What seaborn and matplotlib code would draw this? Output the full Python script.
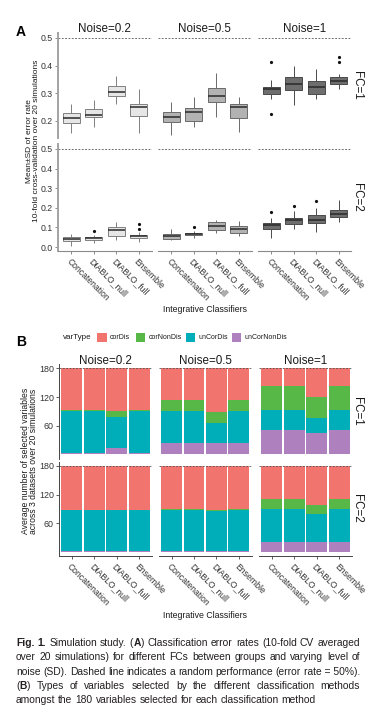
import numpy as np
import pandas as pd
import matplotlib
matplotlib.use("Agg")
import matplotlib.pyplot as plt
from matplotlib.patches import Rectangle
import seaborn as sns

# ---------------- data ----------------
noise_levels = ["Noise=0.2", "Noise=0.5", "Noise=1"]
fc_levels = ["FC=1", "FC=2"]
methods = ["Concatenation", "DIABLO_null", "DIABLO_full", "Ensemble"]

# Panel A: error-rate box summaries, order = noise 0.2 / 0.5 / 1, 4 methods each
fc1_whislo = [0.155, 0.179, 0.260, 0.155, 0.148, 0.179, 0.215, 0.161, 0.278, 0.256, 0.280, 0.316]
fc1_q1     = [0.192, 0.214, 0.290, 0.218, 0.197, 0.201, 0.268, 0.212, 0.298, 0.311, 0.298, 0.335]
fc1_median = [0.212, 0.221, 0.304, 0.251, 0.215, 0.233, 0.290, 0.251, 0.316, 0.332, 0.323, 0.346]
fc1_q3     = [0.230, 0.242, 0.325, 0.262, 0.232, 0.246, 0.320, 0.262, 0.323, 0.358, 0.344, 0.359]
fc1_whishi = [0.260, 0.275, 0.364, 0.316, 0.269, 0.285, 0.374, 0.287, 0.347, 0.400, 0.388, 0.371]

fc2_whislo = [0.007, 0.019, 0.034, 0.027, 0.034, 0.046, 0.070, 0.058, 0.048, 0.092, 0.077, 0.127]
fc2_q1     = [0.031, 0.034, 0.058, 0.047, 0.041, 0.059, 0.086, 0.074, 0.092, 0.115, 0.125, 0.152]
fc2_median = [0.043, 0.045, 0.087, 0.055, 0.058, 0.067, 0.108, 0.091, 0.111, 0.137, 0.140, 0.171]
fc2_q3     = [0.051, 0.051, 0.101, 0.064, 0.065, 0.074, 0.128, 0.106, 0.124, 0.150, 0.163, 0.188]
fc2_whishi = [0.067, 0.060, 0.130, 0.075, 0.092, 0.084, 0.140, 0.134, 0.146, 0.185, 0.197, 0.240]

outlier_fc     = ["FC=1", "FC=1", "FC=1", "FC=1", "FC=2", "FC=2", "FC=2", "FC=2", "FC=2", "FC=2", "FC=2"]
outlier_noise  = ["Noise=1", "Noise=1", "Noise=1", "Noise=1", "Noise=0.2", "Noise=0.2",
                  "Noise=0.2", "Noise=0.5", "Noise=1", "Noise=1", "Noise=1"]
outlier_method = ["Concatenation", "Concatenation", "Ensemble", "Ensemble", "DIABLO_null", "Ensemble",
                  "Ensemble", "DIABLO_null", "Concatenation", "DIABLO_null", "DIABLO_full"]
outlier_value  = [0.412, 0.226, 0.430, 0.413, 0.080, 0.115, 0.092, 0.100, 0.177, 0.208, 0.235]

# Panel B: average number of selected variables per type (same order)
var_types = ["corDis", "corNonDis", "unCorDis", "unCorNonDis"]
fc1_corDis      = [88, 88, 89, 88, 67, 67, 91, 67, 38, 38, 60, 38]
fc1_corNonDis   = [2, 1, 12, 2, 23, 23, 24, 23, 49, 49, 43, 49]
fc1_unCorDis    = [88, 89, 65, 88, 66, 66, 41, 66, 41, 41, 32, 41]
fc1_unCorNonDis = [2, 2, 14, 2, 24, 24, 24, 24, 52, 52, 45, 52]

fc2_corDis      = [92, 92, 92, 92, 90, 90, 92, 90, 69, 69, 81, 69]
fc2_corNonDis   = [0, 0, 0, 0, 2, 2, 3, 2, 22, 22, 19, 22]
fc2_unCorDis    = [87, 87, 87, 87, 86, 86, 83, 86, 68, 68, 60, 68]
fc2_unCorNonDis = [1, 1, 1, 1, 2, 2, 2, 2, 21, 21, 20, 21]

var_colors = ["#F2746F", "#58B847", "#00AEBA", "#AE80BD"]
box_fill = ["#E6E6E6", "#B2B2B2", "#6E6E6E"]
box_line = ["#808080", "#6A6A6A", "#4A4A4A"]


def box_sample(lo, q1, med, q3, hi, outs):
    """21 values whose quartiles / whisker ends equal the read summary."""
    low = sorted(v for v in outs if v < q1)
    high = sorted(v for v in outs if v > q3)
    vals = low + [lo] + [q1] * (5 - len(low)) + [med] * 5 + [q3] * 5
    vals += [q3] * (4 - len(high)) + [hi] + high
    return vals


summaries = {
    "FC=1": (fc1_whislo, fc1_q1, fc1_median, fc1_q3, fc1_whishi),
    "FC=2": (fc2_whislo, fc2_q1, fc2_median, fc2_q3, fc2_whishi),
}
rows = []
for fc in fc_levels:
    lo, q1, md, q3, hi = summaries[fc]
    for i in range(12):
        noise = noise_levels[i // 4]
        m = methods[i % 4]
        outs = [v for f, n, mm, v in zip(outlier_fc, outlier_noise, outlier_method, outlier_value)
                if f == fc and n == noise and mm == m]
        for v in box_sample(lo[i], q1[i], md[i], q3[i], hi[i], outs):
            rows.append((fc, noise, m, v))
dfA = pd.DataFrame(rows, columns=["fc", "noise", "method", "error"])

countsB = {
    "FC=1": [fc1_corDis, fc1_corNonDis, fc1_unCorDis, fc1_unCorNonDis],
    "FC=2": [fc2_corDis, fc2_corNonDis, fc2_unCorDis, fc2_unCorNonDis],
}
rowsB = []
for fc in fc_levels:
    for vt, arr in zip(var_types, countsB[fc]):
        for i in range(12):
            rowsB.append((fc, noise_levels[i // 4], methods[i % 4], vt, arr[i]))
dfB = pd.DataFrame(rowsB, columns=["fc", "noise", "method", "varType", "count"])

# ---------------- figure ----------------
sns.set_theme(style="white")
plt.rcParams['font.family'] = ['Liberation Sans', 'DejaVu Sans']
plt.rcParams['axes.facecolor'] = 'white'

W, H = 378, 727
fig = plt.figure(figsize=(W / 100, H / 100), dpi=100, facecolor='white')


def fx(x):
    return x / W


def fy(y):
    return 1 - y / H


def add_ax(x0, y0, x1, y1):
    return fig.add_axes([fx(x0), fy(y1), (x1 - x0) / W, (y1 - y0) / H])


TXT = '#1a1a1a'
TICK = '#333333'

# ---------- Panel A ----------
colsA = [(57.5, 151.5), (157.5, 251.5), (257.5, 351.5)]
rowsA = [(33, 138), (144, 251)]
ylimA = [(0.138, 0.518), (-0.02, 0.525)]
yticksA = [[0.2, 0.3, 0.4, 0.5], [0.0, 0.1, 0.2, 0.3, 0.4, 0.5]]

for r, fc in enumerate(fc_levels):
    for c, noise in enumerate(noise_levels):
        ax = add_ax(colsA[c][0], rowsA[r][0], colsA[c][1], rowsA[r][1])
        sub = dfA[(dfA.fc == fc) & (dfA.noise == noise)]
        sns.boxplot(data=sub, x="method", y="error", order=methods, color=box_fill[c],
                    linecolor=box_line[c], saturation=1, width=0.75, linewidth=0.7,
                    showcaps=False,
                    flierprops=dict(marker='o', markersize=2.3, markerfacecolor='#111111',
                                    markeredgecolor='#111111', markeredgewidth=0),
                    medianprops=dict(color='#2a2a2a', linewidth=1.1), ax=ax)
        ax.axhline(0.5, color='#555555', lw=0.6, ls=(0, (2.2, 1.8)), zorder=1)
        ax.set_xlim(-0.62, 3.58)
        ax.set_ylim(*ylimA[r])
        ax.set_xlabel('')
        ax.set_ylabel('')
        for s in ax.spines.values():
            s.set_visible(False)
        ax.set_yticks(yticksA[r])
        if c == 0:
            ax.spines['left'].set_visible(True)
            ax.spines['left'].set_color('#A3A3A3')
            ax.spines['left'].set_linewidth(1.4)
            ax.set_yticklabels([f"{v:.1f}" for v in yticksA[r]])
            ax.tick_params(axis='y', length=2.2, width=0.6, color='#777777', labelsize=6.3,
                           labelcolor=TICK, pad=1.2, left=True)
        else:
            ax.tick_params(axis='y', left=False, labelleft=False)
        ax.set_xticks(range(4))
        if r == 1:
            ax.spines['bottom'].set_visible(True)
            ax.spines['bottom'].set_color('#8A8A8A')
            ax.spines['bottom'].set_linewidth(0.8)
            ax.set_xticklabels(methods, rotation=-45, ha='left', va='top',
                               rotation_mode='anchor', fontsize=6.2, color=TICK)
            ax.tick_params(axis='x', length=2, width=0.6, color='#777777', pad=2.5, bottom=True)
        else:
            ax.tick_params(axis='x', bottom=False, labelbottom=False)

for c, noise in enumerate(noise_levels):
    fig.text(fx((colsA[c][0] + colsA[c][1]) / 2), fy(32.5), noise, ha='center', va='baseline',
             fontsize=8.4, color=TXT)
for r, fc in enumerate(fc_levels):
    fig.text(fx(357), fy((rowsA[r][0] + rowsA[r][1]) / 2), fc, rotation=-90, ha='center',
             va='center', fontsize=8.4, color=TXT)
fig.text(fx(29.5), fy(141), "Mean±SD of error rate", rotation=90, ha='center', va='center',
         fontsize=6.0, color=TXT)
fig.text(fx(36.5), fy(141), "10-fold cross-validation over 20 simulations", rotation=90,
         ha='center', va='center', fontsize=6.0, color=TXT)
fig.text(fx(204.5), fy(312), "Integrative Classifiers", ha='center', va='baseline',
         fontsize=6.3, color=TXT)
fig.text(fx(15.5), fy(35.5), "A", fontsize=10, fontweight='bold', va='baseline', color='black')

# ---------- Panel B ----------
colsB = [(59, 152), (159, 251.5), (259, 352)]
rowsB = [(364, 458.7), (461.7, 556)]
stack_bottom_first = ["unCorNonDis", "unCorDis", "corNonDis", "corDis"]
col_of = dict(zip(var_types, var_colors))

for r, fc in enumerate(fc_levels):
    for c, noise in enumerate(noise_levels):
        ax = add_ax(colsB[c][0], rowsB[r][0], colsB[c][1], rowsB[r][1])
        sub = dfB[(dfB.fc == fc) & (dfB.noise == noise)]
        piv = sub.pivot(index="method", columns="varType", values="count").loc[methods]
        cum = piv[stack_bottom_first].cumsum(axis=1)
        for vt in stack_bottom_first[::-1]:
            sns.barplot(x=methods, y=cum[vt].values, order=methods, color=col_of[vt],
                        saturation=1, width=0.93, errorbar=None, linewidth=0,
                        edgecolor='none', ax=ax)
        ax.axhline(180, color='#555555', lw=0.6, ls=(0, (2.2, 1.8)), zorder=3)
        ax.set_xlim(-0.56, 3.56)
        ax.set_ylim(-9, 189)
        ax.set_xlabel('')
        ax.set_ylabel('')
        for s in ax.spines.values():
            s.set_visible(False)
        ax.set_yticks([60, 120, 180])
        if c == 0:
            ax.spines['left'].set_visible(True)
            ax.spines['left'].set_color('#444444')
            ax.spines['left'].set_linewidth(0.7)
            ax.set_yticklabels(["60", "120", "180"])
            ax.tick_params(axis='y', length=2.5, width=0.6, color='#444444', labelsize=6.4,
                           labelcolor=TICK, pad=1.2, left=True)
        else:
            ax.tick_params(axis='y', left=False, labelleft=False)
        ax.set_xticks(range(4))
        if r == 1:
            ax.spines['bottom'].set_visible(True)
            ax.spines['bottom'].set_color('#444444')
            ax.spines['bottom'].set_linewidth(0.7)
            ax.set_xticklabels(methods, rotation=-45, ha='left', va='top',
                               rotation_mode='anchor', fontsize=6.2, color=TICK)
            ax.tick_params(axis='x', length=2, width=0.6, color='#444444', pad=2.5, bottom=True)
        else:
            ax.tick_params(axis='x', bottom=False, labelbottom=False)

for c, noise in enumerate(noise_levels):
    fig.text(fx((colsB[c][0] + colsB[c][1]) / 2), fy(363.5), noise, ha='center', va='baseline',
             fontsize=8.4, color=TXT)
for r, fc in enumerate(fc_levels):
    fig.text(fx(357), fy((rowsB[r][0] + rowsB[r][1]) / 2), fc, rotation=-90, ha='center',
             va='center', fontsize=8.4, color=TXT)
fig.text(fx(25.5), fy(461), "Average number of selected variables", rotation=90, ha='center',
         va='center', fontsize=6.2, color=TXT)
fig.text(fx(33.3), fy(461), "across 3 datasets over 20 simulations", rotation=90, ha='center',
         va='center', fontsize=6.2, color=TXT)
fig.text(fx(205), fy(618), "Integrative Classifiers", ha='center', va='baseline',
         fontsize=6.3, color=TXT)
fig.text(fx(16), fy(346.5), "B", fontsize=10, fontweight='bold', va='baseline', color='black')

# legend
leg_y = 337.7
fig.text(fx(63), fy(leg_y), "varType", ha='left', va='center', fontsize=5.8, color=TXT)
sq_x = [97.3, 135.5, 185.5, 232]
lab_x = [110, 148.5, 198.5, 244.5]
sq = 9.3
for vt, colr, sx, lx in zip(var_types, var_colors, sq_x, lab_x):
    fig.patches.append(Rectangle((fx(sx), fy(leg_y + sq / 2)), sq / W, sq / H,
                                 transform=fig.transFigure, facecolor=colr, edgecolor='none'))
    fig.text(fx(lx), fy(leg_y), vt, ha='left', va='center', fontsize=5.0, color=TXT)

# ---------- caption (justified) ----------
cap_fs = 7.4
cap_color = '#231f20'
cap_lines = [
    "**Fig.** **1.** Simulation study. (**A**) Classification error rates (10-fold CV averaged",
    "over 20 simulations) for different FCs between groups and varying level of",
    "noise (SD). Dashed line indicates a random performance (error rate\u00a0=\u00a050%).",
    "(**B**) Types of variables selected by the different classification methods",
    "amongst the 180 variables selected for each classification method",
]
renderer = fig.canvas.get_renderer()
_wcache = {}


def seg_width(s, bold):
    key = (s, bold)
    if key in _wcache:
        return _wcache[key]
    fw = 'bold' if bold else 'normal'
    t = fig.text(0, 0, "|" + s + "|", fontsize=cap_fs, fontweight=fw)
    w1 = t.get_window_extent(renderer).width
    t.set_text("||")
    w0 = t.get_window_extent(renderer).width
    t.remove()
    _wcache[key] = w1 - w0
    return w1 - w0


x_left, x_right = 16, 360
base0, lstep = 646, 14.3
space_w = seg_width(" ", False)
for li, line in enumerate(cap_lines):
    words = []
    for w in line.split(" "):
        parts = w.split("**")
        segs = [(p, k % 2 == 1) for k, p in enumerate(parts) if p]
        words.append(segs)
    widths = [sum(seg_width(p, b) for p, b in segs) for segs in words]
    if li < len(cap_lines) - 1:
        gap = (x_right - x_left - sum(widths)) / (len(words) - 1)
    else:
        gap = space_w
    x = x_left
    yb = base0 + li * lstep
    for segs, wd in zip(words, widths):
        xx = x
        for p, b in segs:
            fig.text(fx(xx), fy(yb), p, ha='left', va='baseline', fontsize=cap_fs,
                     fontweight='bold' if b else 'normal', color=cap_color)
            xx += seg_width(p, b)
        x += wd + gap

fig.savefig("out.png", dpi=100, facecolor='white')
